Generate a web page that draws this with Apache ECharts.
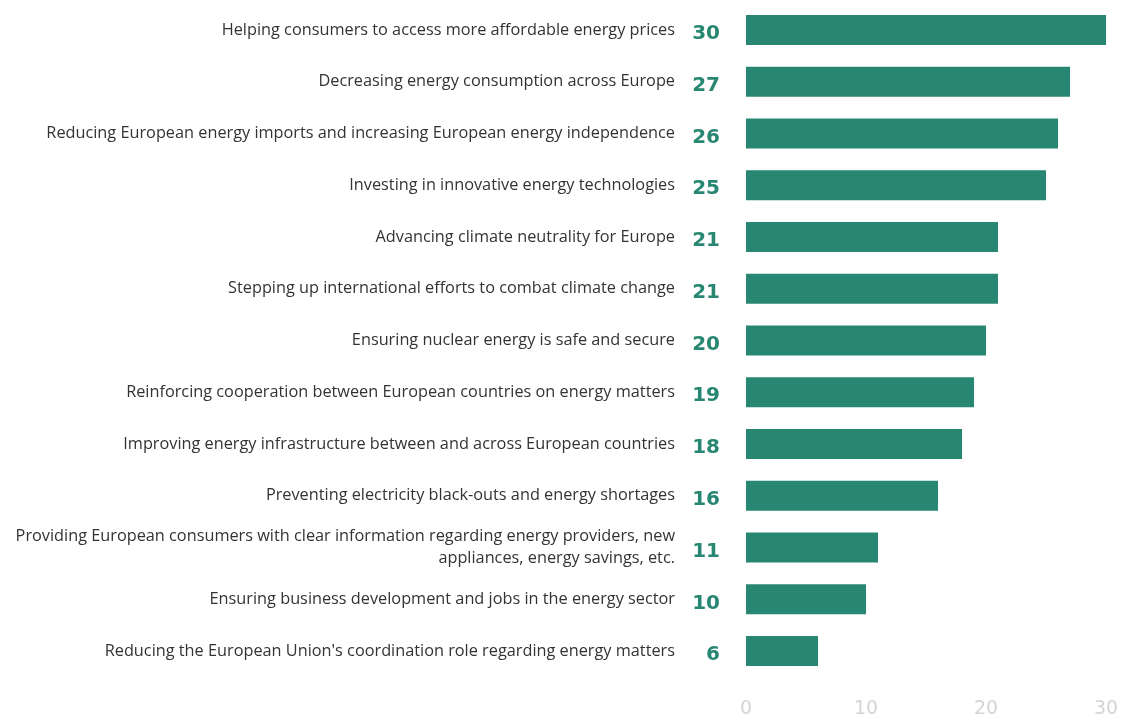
<!DOCTYPE html>
<html>
<head>
<meta charset="utf-8">
<script src="https://cdn.jsdelivr.net/npm/echarts@6/dist/echarts.min.js"></script>
<style>
  html, body { margin: 0; padding: 0; background: #fff; }
  #chart { width: 1125px; height: 715px; }
</style>
</head>
<body>
<div id="chart"></div>
<script>
    // categories, top to bottom as shown in the picture
    var categories = [
        'Helping consumers to access more affordable energy prices',
        'Decreasing energy consumption across Europe',
        'Reducing European energy imports and increasing European energy independence',
        'Investing in innovative energy technologies',
        'Advancing climate neutrality for Europe',
        'Stepping up international efforts to combat climate change',
        'Ensuring nuclear energy is safe and secure',
        'Reinforcing cooperation between European countries on energy matters',
        'Improving energy infrastructure between and across European countries',
        'Preventing electricity black-outs and energy shortages',
        'Providing European consumers with clear information regarding energy providers, new\nappliances, energy savings, etc.',
        'Ensuring business development and jobs in the energy sector',
        'Reducing the European Union\'s coordination role regarding energy matters'
    ];
    var values = [30, 27, 26, 25, 21, 21, 20, 19, 18, 16, 11, 10, 6];
    var xTicks = [0, 10, 20, 30];

    var teal = '#288772';

    var chart = echarts.init(document.getElementById('chart'));
    chart.setOption({
        animation: false,
        grid: { left: 746, right: 19, top: 4, bottom: 38, containLabel: false, outerBoundsMode: 'none' },
        xAxis: {
            type: 'value',
            min: xTicks[0],
            max: xTicks[xTicks.length - 1],
            interval: 10,
            axisLine: { show: false },
            axisTick: { show: false },
            splitLine: { show: false },
            axisLabel: { color: '#d4d4d4', fontSize: 19, fontFamily: 'DejaVu Sans', margin: 23 }
        },
        yAxis: {
            type: 'category',
            inverse: true,
            data: categories,
            axisLine: { show: false },
            axisTick: { show: false },
            axisLabel: {
                color: '#333',
                fontSize: 16.3,
                fontFamily: 'Open Sans',
                margin: 71,
                align: 'right',
                lineHeight: 22
            }
        },
        series: [{
            type: 'bar',
            data: values,
            barWidth: 30,
            itemStyle: { color: teal },
            label: {
                show: true,
                position: 'left',
                distance: 26,
                color: teal,
                fontSize: 20,
                fontWeight: 'bold',
                fontFamily: 'DejaVu Sans',
                offset: [0, 4]
            }
        }]
    });
</script>
</body>
</html>
